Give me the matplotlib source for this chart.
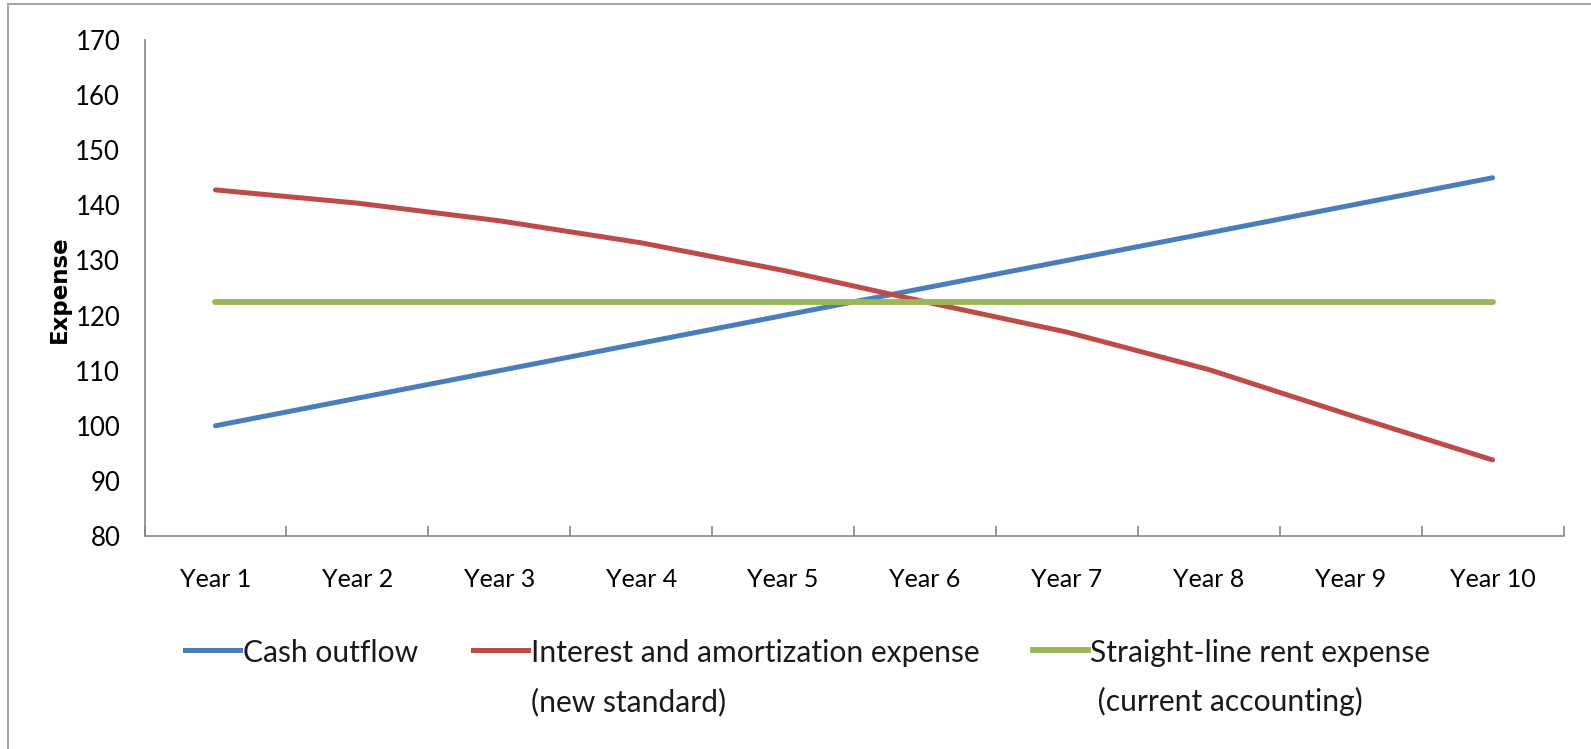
import numpy as np
import matplotlib.pyplot as plt
from matplotlib.lines import Line2D
from matplotlib.patches import Rectangle

years = ['Year 1', 'Year 2', 'Year 3', 'Year 4', 'Year 5',
         'Year 6', 'Year 7', 'Year 8', 'Year 9', 'Year 10']
cash_outflow = [100, 105, 110, 115, 120, 125, 130, 135, 140, 145]
interest_amort = [142.8, 140.4, 137.2, 133.2, 128.2, 122.5, 117.0, 110.2, 101.9, 93.8]
straight_line = [122.5, 122.5, 122.5, 122.5, 122.5, 122.5, 122.5, 122.5, 122.5, 122.5]

labels = ['Cash outflow',
          'Interest and amortization expense\n(new standard)',
          'Straight-line rent expense\n (current accounting)']
colors = ['#4A7EBB', '#BE4B48', '#98B954']

W, H = 1591, 749
fig = plt.figure(figsize=(W / 100, H / 100), dpi=100)
ax = fig.add_axes([144.5 / W, 1 - 536 / H, (1563.5 - 144.5) / W, (536 - 40) / H])

x = np.arange(len(years))
series = [cash_outflow, interest_amort, straight_line]
widths = [3.6, 3.6, 4.2]
for vals, c, lw in zip(series, colors, widths):
    ax.plot(x, vals, color=c, lw=lw, solid_capstyle='round')

ax.set_xlim(-0.5, len(years) - 0.5)
ax.set_ylim(80, 170)
ax.set_yticks(np.arange(80, 171, 10))

for s in ['top', 'right']:
    ax.spines[s].set_visible(False)
for s in ['left', 'bottom']:
    ax.spines[s].set_color('#868686')
    ax.spines[s].set_linewidth(1.2)

# category boundaries get the tick marks, labels sit in between
ax.set_xticks(np.arange(-0.5, len(years), 1))
ax.set_xticklabels([])
ax.set_xticks(x, minor=True)
ax.set_xticklabels(years, minor=True, family='Lato', fontsize=18)
ax.tick_params(axis='x', which='major', direction='in', length=7, width=1.2, color='#868686')
ax.tick_params(axis='x', which='minor', length=0, pad=23)
ax.tick_params(axis='y', length=0, pad=17.5)
for t in ax.get_yticklabels():
    t.set_family('Lato')
    t.set_fontsize(18.5)

fig.text(59 / W, 1 - 289 / H, 'Expense', rotation=90, ha='center', va='center',
         family='DejaVu Sans', fontweight='bold', fontsize=16.5)

# legend drawn by hand so the key lines sit on the first text line
handle_x = [(185, 240), (473, 528), (1033, 1088)]
text_x = [243, 531, 1090]
for (x0, x1), tx, lab, c, lw in zip(handle_x, text_x, labels, colors, widths):
    fig.add_artist(Line2D([x0 / W, x1 / W], [1 - 650 / H, 1 - 650 / H],
                          transform=fig.transFigure, color=c, lw=lw))
    for i, line in enumerate(lab.split('\n')):
        fig.text(tx / W, 1 - (662 + 49 * i) / H, line, ha='left', va='baseline',
                 family='Lato', fontsize=21.6, color='#1a1a1a')

# outer frame: only its top and left edges fall inside the picture
fig.patches.append(Rectangle((8 / W, -0.1), 1.2, 1.1 - 4 / H,
                             transform=fig.transFigure, fill=False,
                             ec='#A6A6A6', lw=1.5))

fig.savefig('out.png', dpi=100)
